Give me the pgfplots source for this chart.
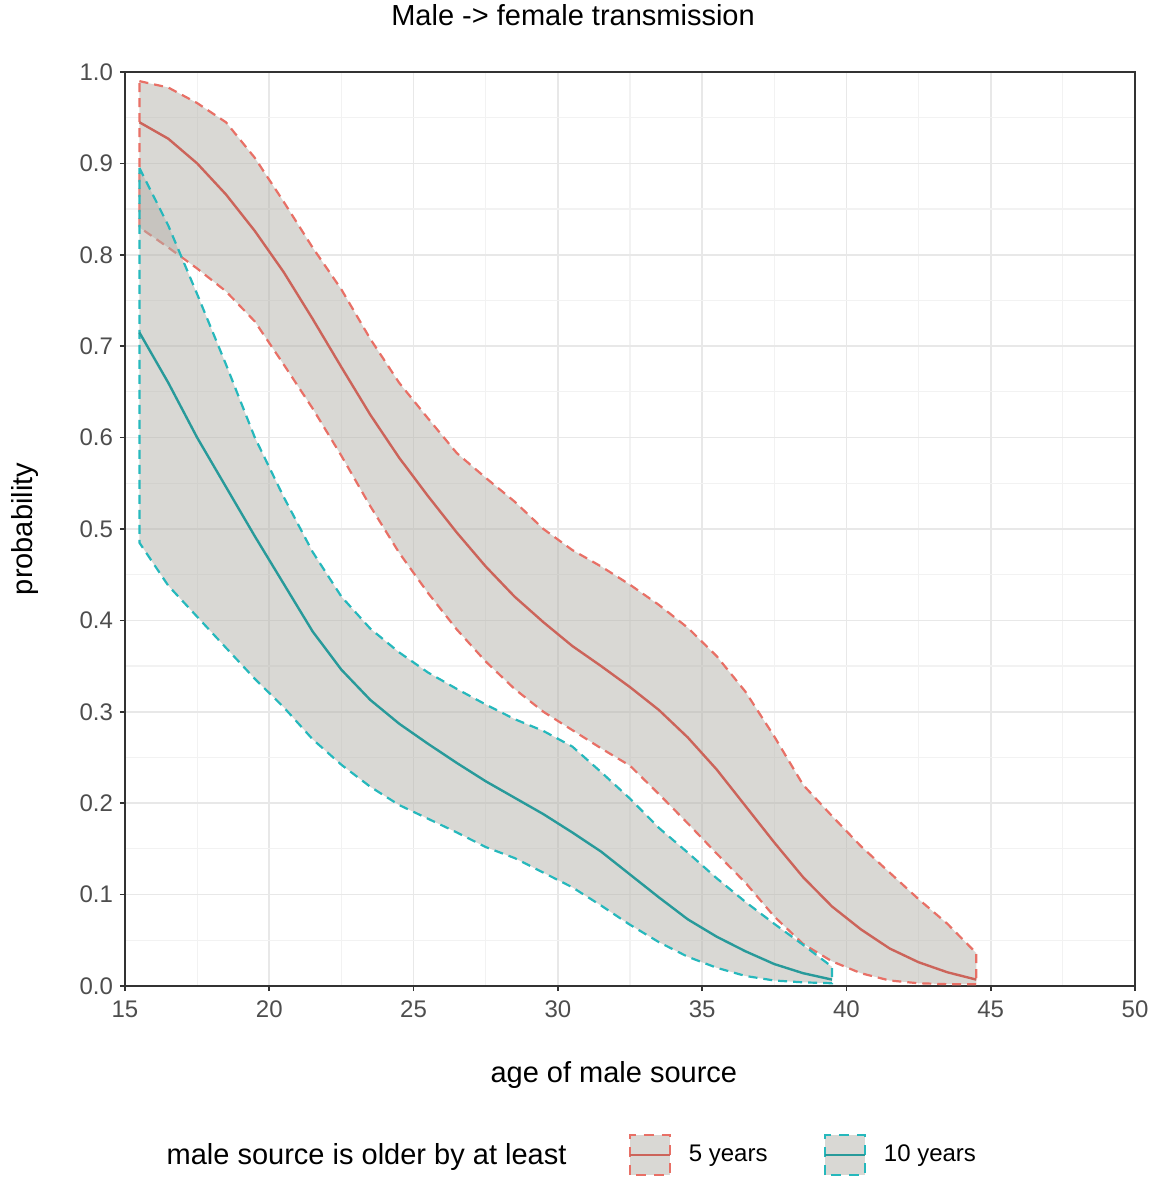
\documentclass[border=0pt]{standalone}
\usepackage{fontspec}
\setmainfont{Liberation Sans}
\usepackage{pgfplots}
\pgfplotsset{compat=1.18}

\definecolor{dashred}{RGB}{232,112,102}
\definecolor{linered}{RGB}{204,100,90}
\definecolor{dashteal}{RGB}{38,184,188}
\definecolor{lineteal}{RGB}{40,154,154}
\definecolor{ribbon}{RGB}{180,177,170}
\definecolor{gridmaj}{RGB}{232,232,232}
\definecolor{gridmin}{RGB}{242,242,242}
\definecolor{ticktext}{RGB}{77,77,77}
\definecolor{frame}{RGB}{51,51,51}

\begin{document}
\begin{tikzpicture}
\path[use as bounding box] (-62.5pt,-96pt) rectangle (512pt,493pt);
\begin{axis}[
    scale only axis,
    width=505pt, height=457pt,
    xmin=15, xmax=50, ymin=0, ymax=1,
    xtick={15,20,...,50},
    ytick={0,0.1,...,1.0},
    minor x tick num=1, minor y tick num=1,
    grid=both,
    major grid style={gridmaj, line width=0.8pt},
    minor grid style={gridmin, line width=0.6pt},
    axis line style={frame, line width=0.8pt},
    tick align=outside,
    xtick pos=left, ytick pos=left,
    major tick length=2.5pt, minor tick length=0pt,
    tick style={frame, line width=0.8pt},
    /pgf/number format/assume math mode=true,
    yticklabel style={/pgf/number format/.cd, fixed, fixed zerofill, precision=1},
    ticklabel style={font=\fontsize{12}{14}\selectfont, text=ticktext},
    xticklabel style={yshift=-1.5pt},
    title={Male -> female transmission},
    title style={font=\fontsize{14.5}{17}\selectfont, at={(axis description cs:0.4436,1.049)}, anchor=center},
    xlabel={age of male source},
    ylabel={probability},
    label style={font=\fontsize{14.5}{17}\selectfont},
    x label style={at={(axis description cs:0.484,-0.097)}, anchor=center},
    y label style={at={(axis description cs:-0.099,0.5)}, anchor=center},
    legend style={draw=none, fill=none, at={(0.031,-0.185)}, anchor=west,
        legend columns=3, font=\fontsize{12}{14}\selectfont,
        /tikz/column 1/.style={column sep=0pt},
        /tikz/column 2/.style={column sep=29pt},
        /tikz/column 3/.style={column sep=7pt},
        /tikz/column 4/.style={column sep=26pt},
        /tikz/column 5/.style={column sep=7pt}},
    legend cell align=left,
]
\addlegendimage{empty legend}
\addlegendentry{\fontsize{14.5}{17}\selectfont male source is older by at least}

% 5 years ribbon: upper edge, then lower edge backwards
\addplot[fill=ribbon, fill opacity=0.5, draw=dashred, line width=1.1pt,
    dash pattern=on 4.5pt off 3pt,
    legend image code/.code={
        \draw[fill=ribbon, fill opacity=0.5, draw=dashred, line width=1.1pt, dash pattern=on 5pt off 4pt] (0pt,-10pt) rectangle (20pt,10pt);
        \draw[linered, line width=1.2pt, solid] (0pt,0pt) -- (20pt,0pt);}]
coordinates {
(15.5,0.990) (16.5,0.983) (17.5,0.966) (18.5,0.945) (19.5,0.906) (20.5,0.858)
(21.5,0.808) (22.5,0.762) (23.5,0.708) (24.5,0.660) (25.5,0.621) (26.5,0.583)
(27.5,0.556) (28.5,0.530) (29.5,0.500) (30.5,0.477) (31.5,0.459) (32.5,0.439)
(33.5,0.417) (34.5,0.392) (35.5,0.361) (36.5,0.322) (37.5,0.273) (38.5,0.220)
(39.5,0.186) (40.5,0.153) (41.5,0.124) (42.5,0.095) (43.5,0.068) (44.5,0.036)
(44.5,0.002) (43.5,0.002) (42.5,0.003) (41.5,0.006) (40.5,0.014) (39.5,0.027)
(38.5,0.046) (37.5,0.076) (36.5,0.113) (35.5,0.145) (34.5,0.178) (33.5,0.210)
(32.5,0.241) (31.5,0.260) (30.5,0.280) (29.5,0.300) (28.5,0.325) (27.5,0.355)
(26.5,0.390) (25.5,0.430) (24.5,0.474) (23.5,0.525) (22.5,0.580) (21.5,0.632)
(20.5,0.680) (19.5,0.727) (18.5,0.760) (17.5,0.785) (16.5,0.808) (15.5,0.830)
} -- cycle;
\addlegendentry{5 years}

% 10 years ribbon
\addplot[fill=ribbon, fill opacity=0.5, draw=dashteal, line width=1.1pt,
    dash pattern=on 4.5pt off 3pt,
    legend image code/.code={
        \draw[fill=ribbon, fill opacity=0.5, draw=dashteal, line width=1.1pt, dash pattern=on 5pt off 4pt] (0pt,-10pt) rectangle (20pt,10pt);
        \draw[lineteal, line width=1.2pt, solid] (0pt,0pt) -- (20pt,0pt);}]
coordinates {
(15.5,0.895) (16.5,0.832) (17.5,0.757) (18.5,0.680) (19.5,0.600) (20.5,0.535)
(21.5,0.475) (22.5,0.426) (23.5,0.391) (24.5,0.365) (25.5,0.343) (26.5,0.325)
(27.5,0.308) (28.5,0.292) (29.5,0.279) (30.5,0.262) (31.5,0.234) (32.5,0.205)
(33.5,0.173) (34.5,0.146) (35.5,0.118) (36.5,0.092) (37.5,0.068) (38.5,0.045)
(39.5,0.021)
(39.5,0.003) (38.5,0.004) (37.5,0.006) (36.5,0.011) (35.5,0.020) (34.5,0.032)
(33.5,0.048) (32.5,0.067) (31.5,0.088) (30.5,0.108) (29.5,0.124) (28.5,0.140)
(27.5,0.152) (26.5,0.168) (25.5,0.183) (24.5,0.198) (23.5,0.218) (22.5,0.242)
(21.5,0.270) (20.5,0.305) (19.5,0.336) (18.5,0.370) (17.5,0.404) (16.5,0.438)
(15.5,0.485)
} -- cycle;
\addlegendentry{10 years}

% medians
\addplot[linered, line width=1.2pt, forget plot] coordinates {
(15.5,0.945) (16.5,0.927) (17.5,0.900) (18.5,0.866) (19.5,0.826) (20.5,0.781)
(21.5,0.730) (22.5,0.677) (23.5,0.625) (24.5,0.578) (25.5,0.536) (26.5,0.496)
(27.5,0.459) (28.5,0.426) (29.5,0.398) (30.5,0.372) (31.5,0.350) (32.5,0.327)
(33.5,0.302) (34.5,0.272) (35.5,0.237) (36.5,0.197) (37.5,0.157) (38.5,0.119)
(39.5,0.087) (40.5,0.062) (41.5,0.041) (42.5,0.026) (43.5,0.015) (44.5,0.007)
};
\addplot[lineteal, line width=1.2pt, forget plot] coordinates {
(15.5,0.715) (16.5,0.660) (17.5,0.600) (18.5,0.546) (19.5,0.492) (20.5,0.440)
(21.5,0.388) (22.5,0.346) (23.5,0.313) (24.5,0.287) (25.5,0.265) (26.5,0.244)
(27.5,0.224) (28.5,0.206) (29.5,0.188) (30.5,0.168) (31.5,0.147) (32.5,0.122)
(33.5,0.097) (34.5,0.073) (35.5,0.054) (36.5,0.038) (37.5,0.024) (38.5,0.014)
(39.5,0.007)
};
\end{axis}
\end{tikzpicture}
\end{document}
